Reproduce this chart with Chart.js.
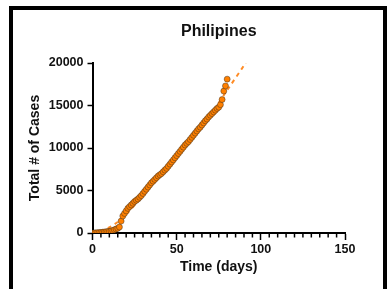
<!DOCTYPE html>
<html>
<head>
<meta charset="utf-8">
<script src="https://cdn.jsdelivr.net/npm/chart.js@4/dist/chart.umd.min.js"></script>
<style>
  html, body { margin: 0; padding: 0; background: #fff; }
  #wrap { position: relative; width: 390px; height: 289px; overflow: hidden; }
  #frame { position: absolute; left: 9px; top: 6px; width: 370px; height: 300px; border: 4px solid #000; box-sizing: content-box; }
  canvas { position: absolute; left: 0; top: 0; }
</style>
</head>
<body>
<div id="wrap">
  <div id="frame"></div>
  <canvas id="c" width="390" height="289"></canvas>
</div>
<script>
// Observed data: days since first case vs total number of cases
const days = [0,1,2,3,4,5,6,7,8,9,10,11,12,13,14,15,16,17,18,19,20,21,22,23,24,25,26,27,28,29,30,31,32,33,34,35,36,37,38,39,40,41,42,43,44,45,46,47,48,49,50,51,52,53,54,55,56,57,58,59,60,61,62,63,64,65,66,67,68,69,70,71,72,73,74,75,76,77,78,79,80];
const cases = [0,10,20,30,50,70,90,110,140,170,200,240,300,380,460,550,700,1400,2000,2300,2600,2900,3100,3300,3500,3700,3850,4000,4200,4400,4650,4900,5150,5400,5650,5900,6100,6300,6500,6700,6850,7000,7200,7400,7600,7850,8100,8350,8600,8850,9100,9350,9600,9850,10100,10350,10550,10750,11000,11250,11500,11750,12000,12250,12450,12700,12950,13200,13400,13650,13850,14050,14250,14450,14650,14800,15100,15700,16700,17300,18100];
// Fitted curve (dashed)
const fitDays  = [0,5,10,15,20,30,40,50,60,70,80,91];
const fitCases = [0,250,650,1300,2200,4400,6700,9000,11400,13900,16800,20000];
// Axis ticks
const xTicks = [0,50,100,150];
const yTicks = [0,5000,10000,15000,20000];
const xMinorStep = 5;

const FONT = '"Liberation Sans", Arial, Helvetica, sans-serif';
const ORANGE = '#ff8000';

const minorTicks = {
  id: 'minorTicks',
  afterDraw(chart) {
    const xs = chart.scales.x;
    const ctx = chart.ctx;
    const y0 = chart.chartArea.bottom;
    ctx.save();
    ctx.strokeStyle = '#000';
    ctx.lineWidth = 1.5;
    for (let v = xTicks[0]; v <= xTicks[xTicks.length - 1]; v += xMinorStep) {
      if (xTicks.includes(v)) continue;
      const px = xs.getPixelForValue(v);
      ctx.beginPath();
      ctx.moveTo(px, y0);
      ctx.lineTo(px, y0 + 4.5);
      ctx.stroke();
    }
    ctx.restore();
  }
};

new Chart(document.getElementById('c'), {
  type: 'scatter',
  data: {
    datasets: [
      {
        type: 'line',
        label: 'fit',
        data: fitDays.map((d, i) => ({ x: d, y: fitCases[i] })),
        borderColor: '#ff8c26',
        borderWidth: 2,
        borderDash: [4, 4],
        pointRadius: 0,
        fill: false,
        tension: 0.3,
        order: 2
      },
      {
        label: 'cases',
        data: days.map((d, i) => ({ x: d, y: cases[i] })),
        backgroundColor: ORANGE,
        borderColor: 'rgba(50,40,30,0.75)',
        borderWidth: 0.6,
        pointRadius: 3,
        order: 1
      }
    ]
  },
  options: {
    responsive: false,
    animation: false,
    devicePixelRatio: 1,
    layout: { padding: { left: 0, right: 45, top: 0, bottom: 0 } },
    plugins: {
      legend: { display: false },
      tooltip: { enabled: false },
      title: {
        display: true,
        text: 'Philipines',
        fullSize: false,
        color: '#111',
        font: { family: FONT, size: 16, weight: 'bold' },
        padding: { top: 21.5, bottom: 22.3 }
      }
    },
    scales: {
      x: {
        type: 'linear',
        min: 0, max: 150,
        afterFit(s) { s.height = 56; },
        afterBuildTicks(s) { s.ticks = xTicks.map(v => ({ value: v })); },
        border: { color: '#000', width: 2 },
        grid: { drawOnChartArea: false, color: '#000', tickColor: '#000', tickLength: 7, tickWidth: 1.5 },
        ticks: {
          color: '#111', padding: 2, maxRotation: 0,
          font: { family: FONT, size: 12.5, weight: 'bold' },
          callback: v => String(v)
        },
        title: {
          display: true, text: 'Time (days)', color: '#111',
          font: { family: FONT, size: 14, weight: 'bold' },
          padding: { top: 13.6, bottom: 13.6 }
        }
      },
      y: {
        type: 'linear',
        min: 0, max: 20000,
        afterFit(s) { s.width = 92.5; },
        afterBuildTicks(s) { s.ticks = yTicks.map(v => ({ value: v })); },
        border: { color: '#000', width: 2 },
        grid: { drawOnChartArea: false, color: '#000', tickColor: '#000', tickLength: 5, tickWidth: 1.5 },
        ticks: {
          color: '#111', padding: 4,
          font: { family: FONT, size: 12.5, weight: 'bold' },
          callback: v => String(v)
        },
        title: {
          display: true, text: 'Total # of Cases', color: '#111',
          font: { family: FONT, size: 14, weight: 'bold' },
          padding: { top: 26.6, bottom: 26.6 }
        }
      }
    }
  },
  plugins: [minorTicks]
});
</script>
</body>
</html>
